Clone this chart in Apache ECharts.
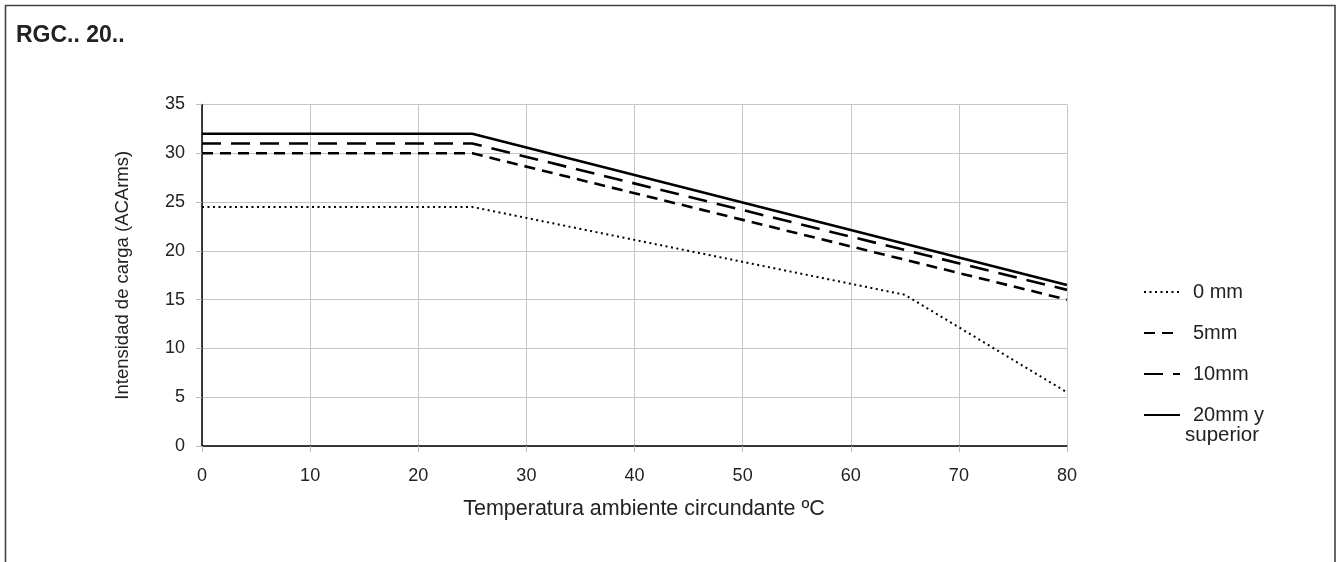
<!DOCTYPE html>
<html>
<head>
<meta charset="utf-8">
<script src="https://cdn.jsdelivr.net/npm/echarts@6/dist/echarts.min.js"></script>
<style>
  html, body { margin: 0; padding: 0; background: #fff; }
  #chart { width: 1336px; height: 562px; }
</style>
</head>
<body>
<div id="chart"></div>
<script>
// Derating curves: load current vs. ambient temperature, per mounting gap
const temps0 = [0, 25, 65, 80];
const amps0 = [24.5, 24.5, 15.5, 5.5];     // 0 mm
const temps = [0, 25, 80];
const amps5 = [30, 30, 15];                // 5mm
const amps10 = [31, 31, 16];               // 10mm
const amps20 = [32, 32, 16.5];             // 20mm y superior

const seriesNames = ['0 mm', '5mm', '10mm', '20mm y'];
const xTicks = { min: 0, max: 80, step: 10 };
const yTicks = { min: 0, max: 35, step: 5 };

const FONT = 'Liberation Sans, Arial, Helvetica, sans-serif';
const TEXT = '#222';

function pairs(xs, ys) { return xs.map((x, i) => [x, ys[i]]); }

function lineSeries(name, data, dash, width) {
  return {
    name: name,
    type: 'line',
    data: data,
    symbol: 'none',
    silent: true,
    animation: false,
    itemStyle: { color: '#000' },
    lineStyle: { color: '#000', width: width, type: dash, cap: 'butt' }
  };
}

const chart = echarts.init(document.getElementById('chart'), null, { renderer: 'canvas' });

chart.setOption({
  backgroundColor: '#fff',
  animation: false,
  title: {
    text: 'RGC.. 20..',
    left: 16,
    top: 24,
    padding: 0,
    textStyle: { fontFamily: FONT, fontSize: 23, fontWeight: 'bold', color: TEXT }
  },
  grid: { left: 202, right: 269, top: 104.5, bottom: 116 },
  xAxis: {
    type: 'value',
    min: xTicks.min, max: xTicks.max, interval: xTicks.step,
    name: 'Temperatura ambiente circundante ºC',
    nameLocation: 'middle',
    nameGap: 52,
    nameTextStyle: { fontFamily: FONT, fontSize: 21.5, color: TEXT, padding: [0, 0, 0, 19] },
    axisLine: { show: true, onZero: false, lineStyle: { color: '#000', width: 1.5 } },
    axisTick: { show: true, length: 6, lineStyle: { color: '#bbb' } },
    axisLabel: { margin: 21, fontFamily: FONT, fontSize: 18, color: TEXT },
    splitLine: { show: true, lineStyle: { color: '#c6c6c6', width: 1 } }
  },
  yAxis: {
    type: 'value',
    min: yTicks.min, max: yTicks.max, interval: yTicks.step,
    name: 'Intensidad de carga (ACArms)',
    nameLocation: 'middle',
    nameGap: 70,
    nameTextStyle: { fontFamily: FONT, fontSize: 18.5, color: TEXT },
    axisLine: { show: true, lineStyle: { color: '#000', width: 1.5 } },
    axisTick: { show: true, length: 6, lineStyle: { color: '#bbb' } },
    axisLabel: { margin: 17, fontFamily: FONT, fontSize: 18, color: TEXT },
    splitLine: { show: true, lineStyle: { color: '#c6c6c6', width: 1 } }
  },
  legend: {
    orient: 'vertical',
    left: 1143,
    top: 282,
    padding: 0,
    itemWidth: 36,
    itemHeight: 14,
    itemGap: 21,
    selectedMode: false,
    data: seriesNames,
    itemStyle: { opacity: 0 },
    textStyle: { fontFamily: FONT, fontSize: 20, color: TEXT, padding: [0, 0, 0, 8] }
  },
  graphic: [
    {
      // outer frame, open at the bottom
      type: 'polyline',
      silent: true,
      shape: { points: [[5.5, 562], [5.5, 5.5], [1335, 5.5], [1335, 562]] },
      style: { stroke: '#444', lineWidth: 1.6, fill: null }
    },
    {
      // second line of the last legend label
      type: 'text',
      silent: true,
      left: 1185,
      top: 425,
      style: { text: 'superior', fontFamily: FONT, fontSize: 20.5, fill: TEXT }
    }
  ],
  series: [
    lineSeries(seriesNames[0], pairs(temps0, amps0), [2, 3.5], 2),
    lineSeries(seriesNames[1], pairs(temps, amps5), [11, 7], 2.6),
    lineSeries(seriesNames[2], pairs(temps, amps10), [19, 10], 2.6),
    lineSeries(seriesNames[3], pairs(temps, amps20), 'solid', 2.6)
  ]
});
</script>
</body>
</html>
